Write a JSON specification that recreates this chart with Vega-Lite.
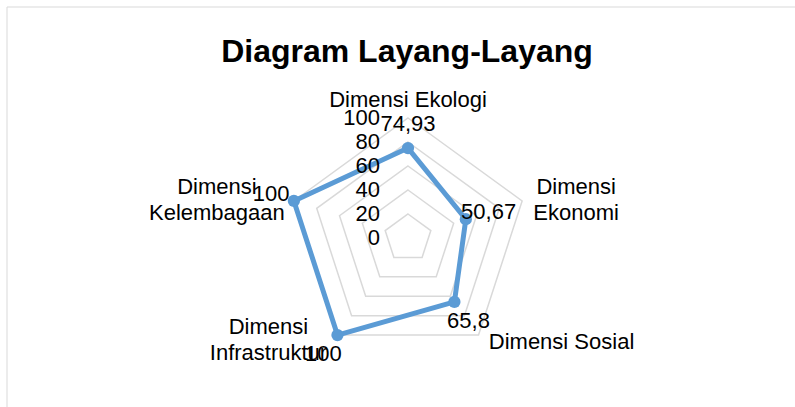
{
  "$schema": "https://vega.github.io/schema/vega-lite/v6.json",
  "width": 788,
  "height": 400,
  "autosize": {"type": "none"},
  "padding": {"left": 7, "top": 7, "right": 0, "bottom": 0},
  "background": "white",
  "title": {"text": "Diagram Layang-Layang", "font": "Liberation Sans", "fontSize": 32, "fontWeight": "bold", "color": "#000000", "anchor": "middle", "offset": -62, "dx": 6},
  "config": {
    "view": {"stroke": null},
    "locale": {"number": {"decimal": ",", "thousands": ".", "grouping": [3], "currency": ["", ""]}},
    "text": {"font": "Liberation Sans", "fontSize": 22, "color": "#000000"}
  },
  "datasets": {
    "dims": [
      {"dim": "Dimensi Ekologi", "idx": 0, "value": 74.93},
      {"dim": "Dimensi Ekonomi", "idx": 1, "value": 50.67},
      {"dim": "Dimensi Sosial", "idx": 2, "value": 65.8},
      {"dim": "Dimensi Infrastruktur", "idx": 3, "value": 100},
      {"dim": "Dimensi Kelembagaan", "idx": 4, "value": 100}
    ],
    "grid": [
      {"level": 20, "idx": [0, 1, 2, 3, 4]},
      {"level": 40, "idx": [0, 1, 2, 3, 4]},
      {"level": 60, "idx": [0, 1, 2, 3, 4]},
      {"level": 80, "idx": [0, 1, 2, 3, 4]},
      {"level": 100, "idx": [0, 1, 2, 3, 4]}
    ],
    "ticks": [
      {"tick": 0}, {"tick": 20}, {"tick": 40}, {"tick": 60}, {"tick": 80}, {"tick": 100}
    ],
    "frame": [{"top": 192.5, "left": -334.1667}]
  },
  "data": {"name": "dims"},
  "transform": [
    {"calculate": "datum.idx * 2 * PI / 5", "as": "ang"},
    {"calculate": "datum.value * sin(datum.ang)", "as": "px"},
    {"calculate": "datum.value * cos(datum.ang)", "as": "py"},
    {"calculate": "(datum.value + 20) * sin(datum.ang)", "as": "lx"},
    {"calculate": "(datum.value + 20) * cos(datum.ang)", "as": "ly"},
    {"calculate": "100 * sin(datum.ang)", "as": "cx"},
    {"calculate": "100 * cos(datum.ang)", "as": "cy"}
  ],
  "layer": [
    {
      "data": {"name": "frame"},
      "mark": {"type": "rule", "color": "#d9d9d9", "strokeWidth": 1},
      "encoding": {
        "y": {"field": "top", "type": "quantitative", "scale": {"domain": [-140.8333, 192.5], "nice": false, "zero": false}, "axis": null}
      }
    },
    {
      "data": {"name": "frame"},
      "mark": {"type": "rule", "color": "#d9d9d9", "strokeWidth": 1},
      "encoding": {
        "x": {"field": "left", "type": "quantitative", "scale": {"domain": [-334.1667, 322.5], "nice": false, "zero": false}, "axis": null}
      }
    },
    {
      "data": {"name": "grid"},
      "transform": [
        {"flatten": ["idx"]},
        {"calculate": "datum.idx * 2 * PI / 5", "as": "ang"},
        {"calculate": "datum.level * sin(datum.ang)", "as": "gx"},
        {"calculate": "datum.level * cos(datum.ang)", "as": "gy"}
      ],
      "mark": {"type": "line", "interpolate": "linear-closed", "color": "#d9d9d9", "strokeWidth": 1.5},
      "encoding": {
        "x": {"field": "gx", "type": "quantitative", "scale": {"domain": [-334.1667, 322.5], "nice": false, "zero": false}, "axis": null},
        "y": {"field": "gy", "type": "quantitative", "scale": {"domain": [-140.8333, 192.5], "nice": false, "zero": false}, "axis": null},
        "detail": {"field": "level"},
        "order": {"field": "idx"}
      }
    },
    {
      "mark": {"type": "line", "interpolate": "linear-closed", "color": "#5B9BD5", "strokeWidth": 5, "strokeJoin": "round"},
      "encoding": {
        "x": {"field": "px", "type": "quantitative", "axis": null},
        "y": {"field": "py", "type": "quantitative", "axis": null},
        "order": {"field": "idx"}
      }
    },
    {
      "mark": {"type": "circle", "color": "#5B9BD5", "size": 150, "opacity": 1},
      "encoding": {
        "x": {"field": "px", "type": "quantitative", "axis": null},
        "y": {"field": "py", "type": "quantitative", "axis": null}
      }
    },
    {
      "data": {"name": "ticks"},
      "mark": {"type": "text", "align": "right", "baseline": "middle"},
      "encoding": {
        "x": {"datum": -23.3, "type": "quantitative", "axis": null},
        "y": {"field": "tick", "type": "quantitative", "axis": null},
        "text": {"field": "tick", "type": "quantitative"}
      }
    },
    {
      "mark": {"type": "text", "align": "center", "baseline": "middle"},
      "encoding": {
        "x": {"field": "lx", "type": "quantitative", "axis": null},
        "y": {"field": "ly", "type": "quantitative", "axis": null},
        "text": {"field": "value", "type": "quantitative", "format": ".4~r"}
      }
    },
    {
      "transform": [{"filter": "datum.idx == 0"}],
      "mark": {"type": "text", "align": "center", "baseline": "middle", "dy": -18},
      "encoding": {
        "x": {"field": "cx", "type": "quantitative", "axis": null},
        "y": {"field": "cy", "type": "quantitative", "axis": null},
        "text": {"field": "dim"}
      }
    },
    {
      "transform": [{"filter": "datum.idx == 1"}],
      "mark": {"type": "text", "align": "center", "baseline": "middle", "dx": 54, "dy": -14, "lineBreak": " ", "lineHeight": 26},
      "encoding": {
        "x": {"field": "cx", "type": "quantitative", "axis": null},
        "y": {"field": "cy", "type": "quantitative", "axis": null},
        "text": {"field": "dim"}
      }
    },
    {
      "transform": [{"filter": "datum.idx == 2"}],
      "mark": {"type": "text", "align": "center", "baseline": "middle", "dx": 83, "dy": 7},
      "encoding": {
        "x": {"field": "cx", "type": "quantitative", "axis": null},
        "y": {"field": "cy", "type": "quantitative", "axis": null},
        "text": {"field": "dim"}
      }
    },
    {
      "transform": [{"filter": "datum.idx == 3"}],
      "mark": {"type": "text", "align": "center", "baseline": "middle", "dx": -69, "dy": -8, "lineBreak": " ", "lineHeight": 26},
      "encoding": {
        "x": {"field": "cx", "type": "quantitative", "axis": null},
        "y": {"field": "cy", "type": "quantitative", "axis": null},
        "text": {"field": "dim"}
      }
    },
    {
      "transform": [{"filter": "datum.idx == 4"}],
      "mark": {"type": "text", "align": "center", "baseline": "middle", "dx": -77, "dy": -14, "lineBreak": " ", "lineHeight": 26},
      "encoding": {
        "x": {"field": "cx", "type": "quantitative", "axis": null},
        "y": {"field": "cy", "type": "quantitative", "axis": null},
        "text": {"field": "dim"}
      }
    }
  ]
}
